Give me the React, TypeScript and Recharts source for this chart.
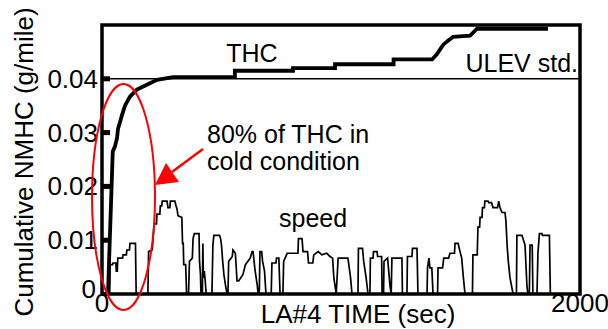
import {
  LineChart,
  Line,
  XAxis,
  YAxis,
  ReferenceLine,
  ReferenceArea,
  Label,
} from "recharts";

// cumulative NMHC over the LA#4 cycle (sec, g/mile)
const thcTime = [
  0, 25, 45, 54, 63, 67, 84, 96, 117, 146, 192, 230, 297, 556, 556, 799, 799,
  975, 975, 1220, 1220, 1381, 1400, 1427, 1445, 1469, 1540, 1569, 1866,
];
const thcValue = [
  0, 0, 0.0265, 0.0274, 0.029, 0.0307, 0.0333, 0.035, 0.0367, 0.038, 0.039,
  0.0398, 0.0403, 0.0403, 0.0415, 0.0415, 0.042, 0.042, 0.0427, 0.0427,
  0.0436, 0.0436, 0.0445, 0.0463, 0.047, 0.0478, 0.048, 0.0493, 0.0493,
];

// vehicle speed trace (sec, mph)
const speedTime = [
  0, 32, 34, 44, 46, 58, 60, 64, 66, 86, 88, 102, 104, 115, 117, 140, 143,
  192, 195, 210, 218, 228, 230, 242, 244, 250, 252, 272, 276, 284, 286, 305,
  310, 314, 318, 334, 337, 340, 342, 350, 354,
  362, 366, 378, 381, 386, 406, 408, 412, 414,
  420, 422, 424, 428, 432, 436,
  460, 464, 468, 492, 496, 500, 505, 510, 516, 523,
  527, 530, 545, 548, 558, 565, 572, 590, 600, 620, 628, 632, 640, 650, 653,
  658, 661, 668, 672, 680, 686, 708, 711, 728, 730, 740, 745, 757, 760, 775,
  795, 820, 822, 837, 841, 860, 864, 882, 886, 905, 920, 940, 954, 965, 970,
  980, 988, 1017, 1029, 1040, 1046,
  1071, 1073, 1090, 1095, 1105, 1113, 1121, 1123, 1134, 1136, 1151, 1153,
  1170, 1172, 1178, 1180, 1195, 1205, 1210, 1213, 1255, 1257, 1276, 1278,
  1297, 1299, 1318, 1322, 1360, 1362, 1368, 1372, 1380, 1385,
  1404, 1406, 1425, 1430, 1450, 1456, 1475, 1477, 1490, 1498, 1505, 1512, 1519,
  1550, 1552, 1570, 1573, 1580, 1582, 1590, 1592, 1600, 1602, 1615, 1618,
  1630, 1636, 1655, 1660, 1665, 1674, 1686, 1690, 1695, 1700, 1707, 1720,
  1734, 1736, 1757, 1770, 1778, 1782, 1788, 1791, 1800, 1803, 1820, 1824,
  1830, 1841, 1843, 1872, 1876,
];
const speedMph = [
  0, 0, 18, 18, 19, 19, 14, 14, 22, 22, 24, 24, 27, 27, 31, 31, 0,
  0, 26, 27, 43, 43, 49, 49, 54, 54, 57, 57, 53, 53, 57, 57,
  54, 52, 48, 47, 31, 31, 18, 18, 0,
  0, 20, 22, 34, 37, 37, 20, 12, 0,
  0, 31, 10, 14, 8, 0,
  0, 30, 36, 36, 34, 30, 20, 12, 6, 0,
  0, 20, 23, 27, 25, 8, 8, 12, 18, 22, 26, 26, 15, 5, 0,
  0, 26, 26, 20, 14, 0, 0, 19, 19, 22, 22, 0, 0, 20, 25,
  25, 25, 34, 34, 26, 26, 19, 19, 24, 26, 24, 25, 23, 22, 10,
  0, 22, 22, 22, 10, 0,
  0, 28, 28, 20, 10, 0, 0, 22, 22, 26, 26, 23,
  23, 0, 0, 20, 22, 5, 0, 22, 22, 0, 0, 23,
  23, 28, 28, 0, 0, 16, 22, 16, 16, 0,
  0, 16, 16, 22, 22, 25, 25, 31, 31, 26, 22, 10, 0,
  0, 24, 24, 41, 41, 47, 47, 53, 53, 57, 57, 56,
  56, 53, 53, 57, 53, 50, 50, 45, 30, 20, 10, 0,
  0, 36, 36, 30, 5, 0, 0, 30, 30, 0, 0, 25,
  37, 37, 36, 36, 0,
];

const yTicks = [0, 0.01, 0.02, 0.03, 0.04];
const xTicks = [0, 2000];

const thcData = thcTime.map((t, i) => ({ t, thc: thcValue[i] }));
const speedData = speedTime.map((t, i) => ({ t, speed: speedMph[i] }));

const FONT = "'Liberation Sans', Arial, sans-serif";

// thick inward tick + label; the zero label sits a bit higher and left
function YTick({ x, y, payload }: any) {
  const zero = payload.value === 0;
  return (
    <g>
      {!zero && (
        <line x1={x + 4} x2={x + 12} y1={y} y2={y} stroke="#000" strokeWidth={5} />
      )}
      <text
        x={zero ? x - 2 : x}
        y={zero ? y - 5 : y}
        dy={9}
        textAnchor="end"
        fontSize={26}
        fontFamily={FONT}
        fill="#000"
      >
        {payload.value}
      </text>
    </g>
  );
}

export default function App() {
  return (
    <div style={{ position: "absolute", left: 0, top: 0, width: 608, height: 329, background: "#fff" }}>
      <LineChart
        width={608}
        height={329}
        margin={{ top: 25, right: 28, bottom: 0, left: 0 }}
        style={{ position: "absolute", left: 0, top: 0 }}
      >
        <XAxis
          type="number"
          dataKey="t"
          domain={[0, 2000]}
          ticks={xTicks}
          height={35}
          axisLine={false}
          tickLine={false}
          tickSize={0}
          tickMargin={0}
          allowDuplicatedCategory
          tick={{ fontSize: 26, fill: "#000", fontFamily: FONT }}
        >
          <Label
            content={() => (
              <text x={358} y={323} textAnchor="middle" fontSize={26} fontFamily={FONT} fill="#000">
                LA#4 TIME (sec)
              </text>
            )}
          />
        </XAxis>
        <YAxis
          yAxisId="nmhc"
          type="number"
          domain={[0, 0.05]}
          ticks={yTicks}
          width={102}
          axisLine={false}
          tickLine={false}
          tickSize={0}
          tickMargin={4}
          tick={<YTick />}
        >
          <Label
            content={() => (
              <text
                transform="translate(33,162) rotate(-90)"
                textAnchor="middle"
                fontSize={26}
                fontFamily={FONT}
                fill="#000"
              >
                Cumulative NMHC (g/mile)
              </text>
            )}
          />
        </YAxis>
        <YAxis yAxisId="speed" type="number" domain={[0, 165]} hide />

        {/* ULEV standard */}
        <ReferenceLine yAxisId="nmhc" y={0.04} stroke="#000" strokeWidth={1.5} />

        <Line
          yAxisId="speed"
          data={speedData}
          dataKey="speed"
          type="linear"
          stroke="#000"
          strokeWidth={1.7}
          dot={false}
          isAnimationActive={false}
        />
        <Line
          yAxisId="nmhc"
          data={thcData}
          dataKey="thc"
          type="linear"
          stroke="#000"
          strokeWidth={3.8}
          dot={false}
          isAnimationActive={false}
        />

        {/* plot frame */}
        <ReferenceArea
          yAxisId="nmhc"
          x1={0}
          x2={2000}
          y1={0}
          y2={0.05}
          fill="none"
          fillOpacity={0}
          stroke="#000"
          strokeWidth={3.5}
        />
      </LineChart>

      <svg
        width={608}
        height={329}
        style={{ position: "absolute", left: 0, top: 0, pointerEvents: "none" }}
        fontFamily={FONT}
        fontSize={25}
      >
        <text x={252} y={62} textAnchor="middle">THC</text>
        <text x={578} y={72} textAnchor="end">ULEV std.</text>
        <text x={279} y={227}>speed</text>
        <text x={207} y={143}>80% of THC in</text>
        <text x={207} y={170}>cold condition</text>
        <ellipse cx={123.5} cy={197} rx={31.5} ry={113} fill="none" stroke="#f00" strokeWidth={2} />
        <line x1={203} y1={149} x2={172} y2={172} stroke="#f00" strokeWidth={2.5} />
        <polygon points="155,185 166,163 179,182" fill="#f00" />
      </svg>
    </div>
  );
}
